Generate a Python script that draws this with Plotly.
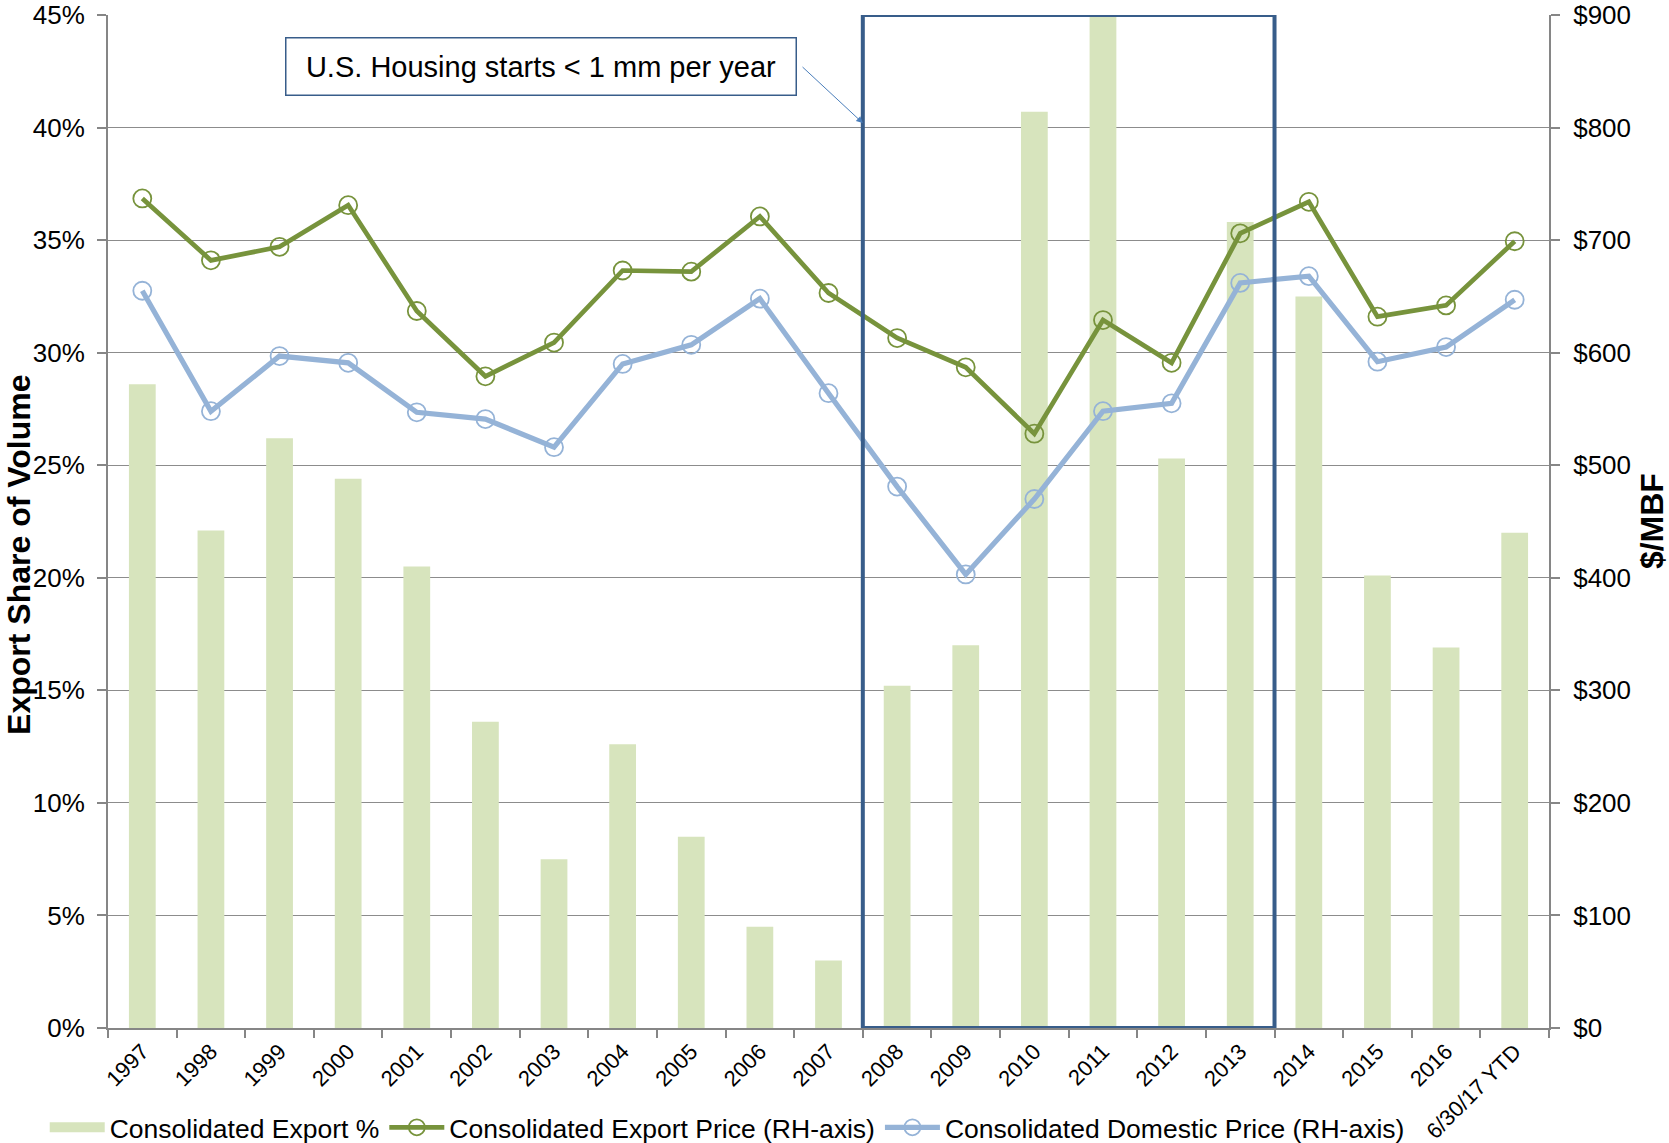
import plotly.graph_objects as go

categories = ["1997", "1998", "1999", "2000", "2001", "2002", "2003", "2004", "2005",
              "2006", "2007", "2008", "2009", "2010", "2011", "2012", "2013", "2014",
              "2015", "2016", "6/30/17 YTD"]
export_pct = [28.6, 22.1, 26.2, 24.4, 20.5, 13.6, 7.5, 12.6, 8.5, 4.5, 3.0,
              15.2, 17.0, 40.7, 45.0, 25.3, 35.8, 32.5, 20.1, 16.9, 22.0]
export_price = [737, 682, 694, 731, 637, 579, 609, 673, 672, 721, 653,
                613, 587, 528, 629, 591, 706, 734, 632, 642, 699]
domestic_price = [655, 548, 597, 591, 547, 541, 516, 590, 607, 648, 564,
                  481, 403, 470, 548, 555, 662, 668, 592, 605, 647]
left_ticks = [0, 5, 10, 15, 20, 25, 30, 35, 40, 45]
right_ticks = [0, 100, 200, 300, 400, 500, 600, 700, 800, 900]
period_start, period_end = "2008", "2013"

FONT = "Arial, Liberation Sans, sans-serif"
GRID = "#8C8C8C"
AXIS = "#868686"
BAR = "#D7E4BD"

fig = go.Figure()
fig.add_trace(go.Bar(x=categories, y=export_pct, name="Consolidated Export %",
                     marker=dict(color=BAR, line=dict(width=0)), yaxis="y",
                     showlegend=False))
# legend swatch for the bar series (wide rectangle like the original)
fig.add_trace(go.Scatter(x=[None], y=[None], name="Consolidated Export %",
                         mode="lines", line=dict(color=BAR, width=22), yaxis="y"))
fig.add_trace(go.Scatter(x=categories, y=export_price, name="Consolidated Export Price (RH-axis)",
                         mode="lines+markers", yaxis="y2",
                         line=dict(color="#77933C", width=4.7),
                         marker=dict(symbol="circle-open", size=18, color="#77933C",
                                     line=dict(width=1.8, color="#77933C"))))
fig.add_trace(go.Scatter(x=categories, y=domestic_price, name="Consolidated Domestic Price (RH-axis)",
                         mode="lines+markers", yaxis="y2",
                         line=dict(color="#95B3D7", width=5.2),
                         marker=dict(symbol="circle-open", size=18, color="#95B3D7",
                                     line=dict(width=1.8, color="#95B3D7"))))

x0 = categories.index(period_start) - 0.5
x1 = categories.index(period_end) + 0.5
fig.add_shape(type="rect", xref="x", yref="y", x0=x0, x1=x1, y0=0, y1=left_ticks[-1],
              line=dict(color="#385D8A", width=4), fillcolor="rgba(0,0,0,0)", layer="above")

fig.add_annotation(xref="paper", yref="paper", x=0.3008, y=0.949, xanchor="center", yanchor="middle",
                   text="U.S. Housing starts &lt; 1 mm per year", showarrow=False,
                   font=dict(family=FONT, size=29, color="#000000"),
                   bordercolor="#385D8A", borderwidth=1.5, bgcolor="white",
                   width=505, height=52, borderpad=2)
fig.add_annotation(xref="x", yref="y", x=x0, y=40.2, axref="x", ayref="y",
                   ax=x0 - 0.9, ay=42.75, text="", showarrow=True,
                   arrowhead=2, arrowsize=1.3, arrowwidth=1, arrowcolor="#4A7EBB")

fig.add_annotation(xref="paper", yref="paper", x=-0.0618, y=0.467, xanchor="center", yanchor="middle",
                   text="<b>Export Share of Volume</b>", textangle=-90, showarrow=False,
                   font=dict(family=FONT, size=32, color="#000000"))
fig.add_annotation(xref="paper", yref="paper", x=1.0712, y=0.5, xanchor="center", yanchor="middle",
                   text="<b>$/MBF</b>", textangle=-90, showarrow=False,
                   font=dict(family=FONT, size=32, color="#000000"))

fig.update_layout(
    template="none",
    width=1669, height=1143,
    margin=dict(l=108.3, r=119.7, t=14.9, b=114.8, autoexpand=False),
    paper_bgcolor="white", plot_bgcolor="white",
    font=dict(family=FONT, size=26, color="#000000"),
    bargap=0.61,
    showlegend=True,
    legend=dict(orientation="h", xref="container", yref="container",
                x=0.0268, y=0.0135, xanchor="left", yanchor="middle",
                font=dict(family=FONT, size=26.5), itemwidth=55, bgcolor="rgba(0,0,0,0)",
                traceorder="normal"),
    xaxis=dict(type="category", tickangle=-45, tickfont=dict(size=22), automargin=False,
               showline=True, linecolor=AXIS, linewidth=2, showgrid=False,
               ticks="outside", tickson="boundaries", ticklen=8, tickcolor=AXIS, tickwidth=2,
               range=[-0.5, len(categories) - 0.5]),
    yaxis=dict(range=[left_ticks[0], left_ticks[-1]], tickmode="array", tickvals=left_ticks,
               ticktext=[f"{v}%" for v in left_ticks], automargin=False, ticklabelstandoff=7,
               showgrid=True, gridcolor=GRID, gridwidth=1.4, zeroline=False,
               showline=True, linecolor=AXIS, linewidth=2,
               ticks="outside", ticklen=9, tickcolor=AXIS, tickwidth=2),
    yaxis2=dict(range=[right_ticks[0], right_ticks[-1]], tickmode="array", tickvals=right_ticks,
                ticktext=[f"${v}" for v in right_ticks], automargin=False, ticklabelstandoff=8,
                overlaying="y", side="right", showgrid=False, zeroline=False,
                showline=True, linecolor=AXIS, linewidth=2,
                ticks="outside", ticklen=9, tickcolor=AXIS, tickwidth=2),
)

fig.write_html("out.html", config={"displayModeBar": False},
               post_script="document.body.style.margin='0';")
